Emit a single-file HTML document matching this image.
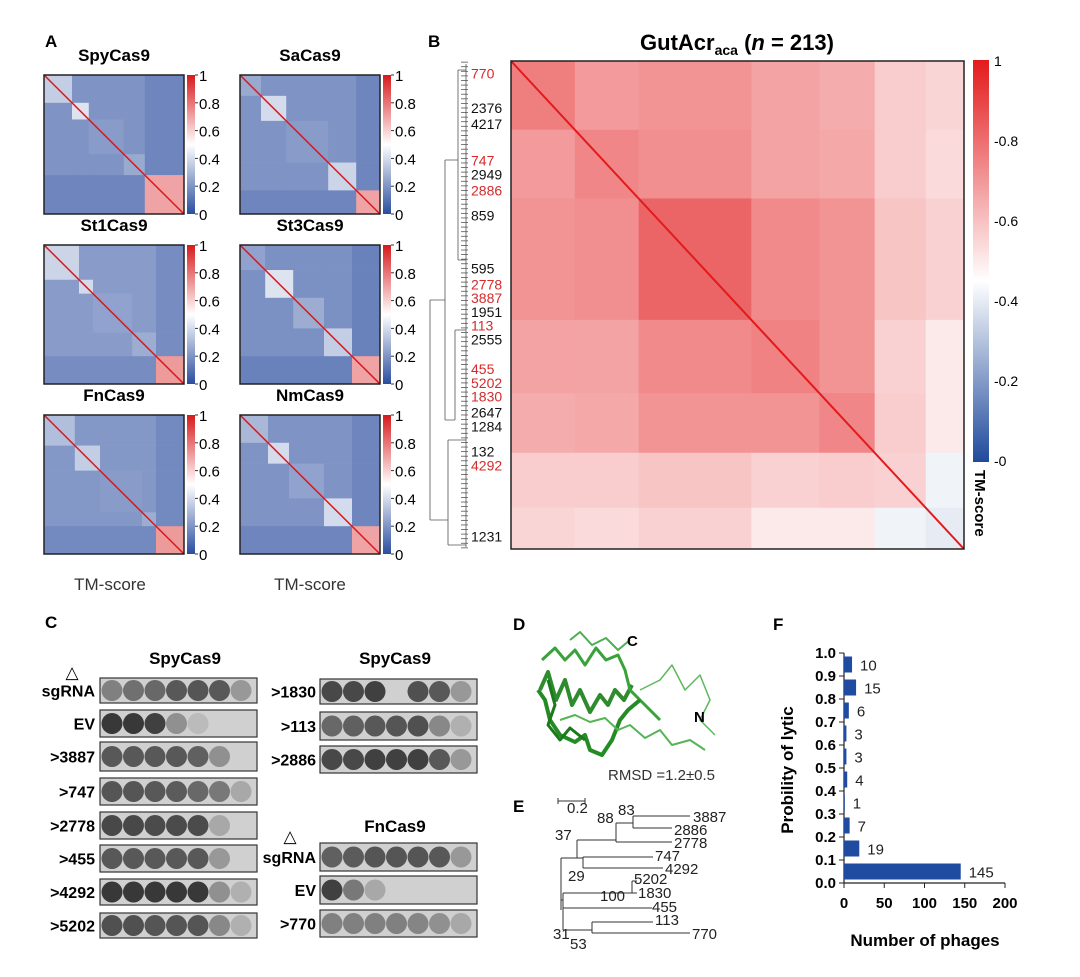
<!DOCTYPE html>
<html><head><meta charset="utf-8"><style>
body{margin:0;background:#fff}
svg{display:block;font-family:"Liberation Sans",Arial,sans-serif}
.b{font-weight:bold}
</style></head><body>
<svg id="fig" width="1080" height="977" viewBox="0 0 1080 977" xmlns="http://www.w3.org/2000/svg">
<defs>
<linearGradient id="cbA" x1="0" y1="1" x2="0" y2="0"><stop offset="0" stop-color="#2a4d9e"/><stop offset="0.5" stop-color="#ffffff"/><stop offset="1" stop-color="#d7191c"/></linearGradient>
<linearGradient id="cbB" x1="0" y1="1" x2="0" y2="0"><stop offset="0" stop-color="#1f4a9c"/><stop offset="0.45" stop-color="#ffffff"/><stop offset="1" stop-color="#e31a1c"/></linearGradient>
</defs>
<g id="pA">
<text x="45" y="47" class="b" font-size="17">A</text>
</g>
<g id="pB">
<text x="428" y="47" class="b" font-size="17">B</text>
<text x="737" y="50" text-anchor="middle" class="b" font-size="22">GutAcr<tspan font-size="14" dy="5">aca</tspan><tspan dy="-5"> (</tspan><tspan font-style="italic">n</tspan> = 213)</text>
<rect x="973" y="60" width="16" height="402" fill="url(#cbB)"/>
<g font-size="14">
<text x="994" y="66">1</text><text x="994" y="146">-0.8</text><text x="994" y="226">-0.6</text><text x="994" y="306">-0.4</text><text x="994" y="386">-0.2</text><text x="994" y="466">-0</text></g>
<text transform="translate(975,470) rotate(90)" class="b" font-size="15">TM-score</text>
</g>
<g id="pC">
<text x="45" y="628" class="b" font-size="17">C</text>
<text x="185" y="664" text-anchor="middle" class="b" font-size="17">SpyCas9</text>
<text x="395" y="664" text-anchor="middle" class="b" font-size="17">SpyCas9</text>
<text x="395" y="832" text-anchor="middle" class="b" font-size="17">FnCas9</text>
<text x="72" y="678" text-anchor="middle" font-size="17">△</text>
<text x="290" y="842" text-anchor="middle" font-size="17">△</text>
</g>
<g>
<text x="513" y="630" class="b" font-size="17">D</text>
<g fill="none" stroke-linejoin="round">
<polyline points="540,690 548,672 556,700 565,680 572,705 580,690 590,712 600,695 608,705 615,690 624,700 632,685" stroke="#2e8b2e" stroke-width="4"/>
<polyline points="542,660 555,648 565,660 575,650 585,665 596,648 606,660 618,655 625,670 630,690 640,700 650,710 660,720" stroke="#3aa23a" stroke-width="3"/>
<polyline points="538,690 545,700 550,720 560,735 575,742 585,735 590,750 602,755 612,740 620,720 628,710 640,700" stroke="#258c25" stroke-width="4"/>
<polyline points="560,720 575,715 590,722 605,718 618,730 630,725 645,738 660,730 672,745 690,740 705,750" stroke="#56b456" stroke-width="2"/>
<polyline points="640,690 660,680 672,665 685,690 700,675 710,700 700,720 715,735" stroke="#5cb85c" stroke-width="1.5"/>
<polyline points="570,640 580,632 592,645 606,638 618,650 630,640" stroke="#4caf50" stroke-width="2"/>
<polyline points="548,680 555,705 548,725 560,740 570,728 585,740" stroke="#1b7a1b" stroke-width="3"/>
</g>
<text x="627" y="646" class="b" font-size="15">C</text>
<text x="694" y="722" class="b" font-size="15">N</text>
<text x="608" y="780" font-size="15" fill="#333">RMSD =1.2±0.5</text>
</g>
<g>
<text x="513" y="812" class="b" font-size="17">E</text>
<g stroke="#333" stroke-width="1" fill="none">
<path d="M558,798V804M558,801H585M585,798V804"/>
<path d="M561,858V910M561,858H577M577,840V858M577,840H616M577,858H583M583,857V868M583,857H653M583,868H663"/>
<path d="M616,823V842M616,823H633M616,842H672M633,816V828M633,816H690M633,828H672"/>
<path d="M561,900H563M563,893V930M563,893H632M632,881V893M632,881H637M632,893H637M563,908H652M563,930H592M592,922V933M592,922H653M592,933H690"/>
</g>
<g font-size="15" fill="#222">
<text x="567" y="813">0.2</text>
<text x="693" y="822">3887</text><text x="674" y="835">2886</text><text x="674" y="848">2778</text><text x="655" y="861">747</text><text x="665" y="874">4292</text>
<text x="634" y="884">5202</text><text x="638" y="898">1830</text><text x="652" y="912">455</text><text x="655" y="925">113</text><text x="692" y="939">770</text>
<text x="618" y="815">83</text><text x="597" y="823">88</text><text x="555" y="840">37</text><text x="568" y="881">29</text><text x="600" y="901">100</text><text x="553" y="939">31</text><text x="570" y="949">53</text>
</g>
</g>
<g id="pF">
<text x="773" y="630" class="b" font-size="17">F</text>
</g>
</svg>
<script>
// ===== Panel F data =====
const fCategories=[0.0,0.1,0.2,0.3,0.4,0.5,0.6,0.7,0.8,0.9];
const fCounts=[145,19,7,1,4,3,3,6,15,10];
const fXTicks=[0,50,100,150,200];
const fYTicks=["0.0","0.1","0.2","0.3","0.4","0.5","0.6","0.7","0.8","0.9","1.0"];
// ===== Panel B heatmap data =====
const bGroupSizes=[30,30,53,32,26,24,18];
const bGroupMatrix=[
[0.76,0.69,0.71,0.67,0.65,0.57,0.55],
[0.69,0.74,0.72,0.67,0.66,0.57,0.54],
[0.71,0.72,0.82,0.73,0.71,0.59,0.56],
[0.67,0.67,0.73,0.75,0.71,0.56,0.50],
[0.65,0.66,0.71,0.71,0.74,0.57,0.50],
[0.57,0.57,0.59,0.56,0.57,0.56,0.42],
[0.55,0.54,0.56,0.50,0.50,0.42,0.40]];
// ===== Panel A heatmaps data =====
const aTitles=["SpyCas9","SaCas9","St1Cas9","St3Cas9","FnCas9","NmCas9"];
const aGroupSizes=[[20,12,25,15,28],[15,18,30,20,17],[25,10,28,17,20],[18,20,22,20,20],[22,18,30,10,20],[20,15,25,20,20]];
const aInner=[[0.36,0.42,0.22,0.26,0.7],[0.26,0.4,0.22,0.38,0.7],[0.38,0.4,0.24,0.27,0.72],[0.24,0.42,0.27,0.36,0.7],[0.32,0.36,0.22,0.27,0.72],[0.3,0.4,0.24,0.4,0.7]];
const aBase=[0.2,0.2,0.22,0.19,0.21,0.2];
const aTicks=["1","0.8","0.6","0.4","0.2","0"];
// ===== Panel B dendrogram labels =====
const dLabels=["770","2376","4217","747","2949","2886","859","595","2778","3887","1951","113","2555","455","5202","1830","2647","1284","132","4292","1231"];
const dIndex=[5,20,27,43,49,56,67,90,97,103,109,115,121,134,140,146,153,159,170,176,207];
const dRed=[1,0,0,1,0,1,0,0,1,1,0,1,0,1,1,1,0,0,0,1,0];
// ===== Panel C plates =====
const cLabels=["sgRNA","EV",">3887",">747",">2778",">455",">4292",">5202",">1830",">113",">2886","sgRNA","EV",">770"];
const cSpots=[[0.45,0.55,0.6,0.7,0.72,0.7,0.3],[0.9,0.9,0.85,0.35,0.08],[0.7,0.7,0.7,0.7,0.65,0.35],[0.72,0.72,0.7,0.68,0.6,0.5,0.2],[0.8,0.8,0.78,0.78,0.78,0.2],[0.7,0.7,0.7,0.7,0.7,0.3],[0.9,0.9,0.9,0.9,0.9,0.35,0.15],[0.75,0.75,0.72,0.72,0.72,0.4,0.15],
[0.8,0.8,0.85,0,0.75,0.7,0.3],[0.6,0.65,0.7,0.72,0.75,0.4,0.15],[0.8,0.8,0.85,0.85,0.85,0.7,0.3],[0.65,0.68,0.72,0.72,0.72,0.7,0.3],[0.85,0.5,0.2],[0.45,0.45,0.45,0.45,0.42,0.35,0.2]];

const NS="http://www.w3.org/2000/svg";
const svg=document.getElementById('fig');
function mk(tag,attrs,parent){const e=document.createElementNS(NS,tag);for(const k in attrs)e.setAttribute(k,attrs[k]);(parent||svg).appendChild(e);return e;}
function lerp(a,b,t){return Math.round(a+(b-a)*t);}
function cmap(v,mid,lo,hi){
  if(v<mid){const t=v/mid;return `rgb(${lerp(lo[0],255,t)},${lerp(lo[1],255,t)},${lerp(lo[2],255,t)})`;}
  const t=(v-mid)/(1-mid);return `rgb(${lerp(255,hi[0],t)},${lerp(255,hi[1],t)},${lerp(255,hi[2],t)})`;
}
function drawHeat(g,x,y,w,h,sizes,valFn,mid,lo,hi,dw){
  const n=sizes.reduce((a,b)=>a+b,0);
  const sx=w/n, sy=h/n;
  let oi=0;
  sizes.forEach((si,i)=>{let oj=0;sizes.forEach((sj,j)=>{
    const r=mk('rect',{x:x+oj*sx,y:y+oi*sy,width:sj*sx+0.3,height:si*sy+0.3,fill:cmap(valFn(i,j),mid,lo,hi)},g);
    
    
    oj+=sj;});oi+=si;});
  const d=mk('line',{x1:x,y1:y,x2:x+w,y2:y+h,stroke:cmap(1,mid,lo,hi),'stroke-width':dw},g);
  
  
  mk('rect',{x:x,y:y,width:w,height:h,fill:'none',stroke:'#222','stroke-width':1.5},g);
}
const gB=document.getElementById('pB');
drawHeat(gB,511,61,453,488,bGroupSizes,(i,j)=>bGroupMatrix[i][j],0.45,[31,74,156],[227,26,28],2);
const dg=mk('g',{stroke:'#555','stroke-width':0.8,fill:'none'},gB);


mk('path',{d:'M466,64V547M430,300V520M430,300H445M430,520H448M445,160V420M445,160H458M445,420H455M458,70V260M455,330V420M448,440V545M458,70H466M458,260H466M455,330H466M448,440H466M448,545H466'},dg);
for(let k=0;k<213;k+=2){const yy=61+(k+0.5)*488/213;mk('line',{x1:461,x2:468,y1:yy,y2:yy},dg);}
dLabels.forEach((l,i)=>{const t=mk('text',{x:471,y:61+(dIndex[i]+0.5)*488/213+5,'font-size':14,fill:dRed[i]?'#d42a2a':'#111'},gB);t.textContent=l;

});
const gA=document.getElementById('pA');
aTitles.forEach((title,k)=>{
  const col=k%2,row=Math.floor(k/2);
  const x=44+col*196,y=75+row*170,w=140,h=139;
  const t=mk('text',{x:x+70,y:y-14,'text-anchor':'middle','font-size':17,'font-weight':'bold'},gA);t.textContent=title;
  
  
  const sz=aGroupSizes[k];
  drawHeat(gA,x,y,w,h,sz,(i,j)=>i===j?aInner[k][i]:(i===4||j===4?aBase[k]-0.04:aBase[k]),0.5,[42,77,158],[215,25,28],1.5);
  const cb=mk('rect',{x:x+143,y:y,width:8,height:h,fill:'url(#cbA)'},gA);
  
  
  aTicks.forEach((lab,i)=>{const tt=mk('text',{x:x+155,y:y+i*h/5+6,'font-size':15},gA);tt.textContent=lab;
   
   
   mk('line',{x1:x+151,x2:x+154,y1:y+i*h/5,y2:y+i*h/5,stroke:'#333'},gA);});
});
[["TM-score",110],["TM-score",310]].forEach(([s,x])=>{const t=mk('text',{x:x,y:590,'text-anchor':'middle','font-size':17,fill:'#333'},gA);t.textContent=s;

});
const gC=document.getElementById('pC');
const plateY=[678,710,742,778,812,845,879,913,679,712,746,843,876,910];
const plateH=[25,27,29,27,27,27,26,25,25,28,27,28,28,27];
cSpots.forEach((sp,i)=>{
  const right=i>=8;const x=right?320:100;const y=plateY[i];const h=plateH[i];
  const pg=mk('g',{},gC);
  
  
  mk('rect',{x:x,y:y,width:157,height:h,fill:'#d0d0d0',stroke:'#333','stroke-width':1.2},pg);
  sp.forEach((v,j)=>{if(v>0)mk('circle',{cx:x+12+j*21.5,cy:y+h/2,r:10.5,fill:`rgb(${lerp(200,40,v)},${lerp(200,40,v)},${lerp(200,40,v)})`},pg);});
  const t=mk('text',{x:right?316:95,y:y+h/2+6,'text-anchor':'end','font-size':16,'font-weight':'bold'},gC);t.textContent=cLabels[i];
  
  
});
const gF=document.getElementById('pF');
const X0=844,Y0=883;
const fx=v=>X0+v*(1005-844)/200;
const fy=v=>Y0-v*(883-653)/1.0;
mk('line',{x1:X0,y1:Y0,x2:X0,y2:fy(1),stroke:'#222','stroke-width':1.2},gF);
mk('line',{x1:X0,y1:Y0,x2:fx(200),y2:Y0,stroke:'#222','stroke-width':1.2},gF);
fYTicks.forEach((l,i)=>{const v=i/10;mk('line',{x1:X0-5,x2:X0,y1:fy(v),y2:fy(v),stroke:'#222'},gF);
 const t=mk('text',{x:X0-8,y:fy(v)+5,'text-anchor':'end','font-size':15,'font-weight':'bold'},gF);t.textContent=l;
 
 });
fXTicks.forEach(v=>{mk('line',{x1:fx(v),x2:fx(v),y1:Y0,y2:Y0+5,stroke:'#222'},gF);
 const t=mk('text',{x:fx(v),y:Y0+25,'text-anchor':'middle','font-size':15,'font-weight':'bold'},gF);t.textContent=v;
 
 });
fCategories.forEach((c,i)=>{
  const yc=fy(c+0.05);
  const r=mk('rect',{x:X0,y:yc-8,width:fx(fCounts[i])-X0,height:16,fill:'#1f4ba0'},gF);
  
  
  const t=mk('text',{x:fx(fCounts[i])+8,y:yc+6,'font-size':15,fill:'#222'},gF);t.textContent=fCounts[i];
  
  
});
const yt=mk('text',{transform:'translate(793,770) rotate(-90)','text-anchor':'middle','font-size':17,'font-weight':'bold'},gF);yt.textContent='Probility of lytic';


const xt=mk('text',{x:925,y:946,'text-anchor':'middle','font-size':17,'font-weight':'bold'},gF);xt.textContent='Number of phages';


</script>
</body></html>
